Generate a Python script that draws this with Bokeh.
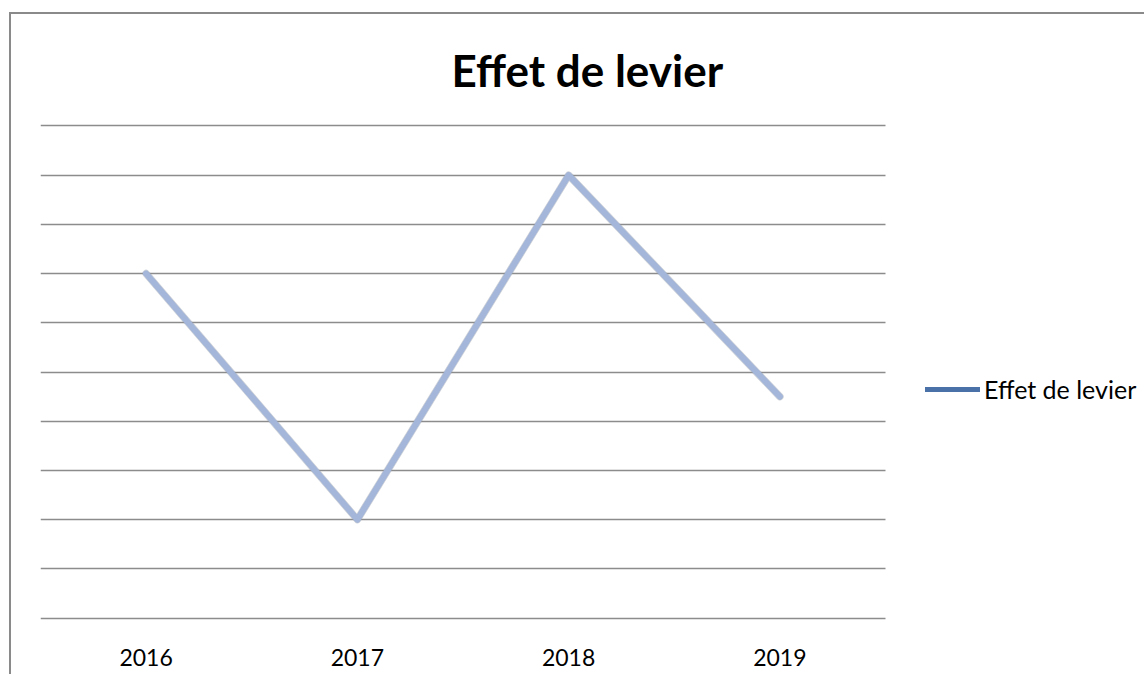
from bokeh.plotting import figure
from bokeh.models import Range1d, Grid, FixedTicker, Legend, LegendItem, ColumnDataSource, Title
from bokeh.embed import file_html
from bokeh.resources import INLINE

years = ["2016", "2017", "2018", "2019"]
effet_levier = [7.0, 2.0, 9.0, 4.5]
grid_ticks = [0, 1, 2, 3, 4, 5, 6, 7, 8, 9, 10]
title_text = "Effet de levier"
series_name = "Effet de levier"

FONT = "Lato"

pos = list(range(len(years)))
n = len(years)

p = figure(
    width=1135, height=662,
    x_range=Range1d(-0.5, -0.5 + n * 1106 / 845),
    y_range=Range1d(-0.05, 10.05),
    output_backend="svg", toolbar_location=None,
    y_axis_location=None,
    min_border_left=29, min_border_right=0,
    min_border_top=109, min_border_bottom=56,
)
p.outline_line_color = None
p.grid.visible = False
p.background_fill_color = "white"
p.border_fill_color = "white"
p.styles = {"border-left": "2px solid #8a8a8a", "border-top": "2px solid #8a8a8a",
            "margin-left": "9px", "margin-top": "12px"}

p.add_layout(Grid(dimension=1, ticker=FixedTicker(ticks=grid_ticks),
                  cross_bounds=(-0.5, n - 0.5),
                  grid_line_color="#8c8c8c", grid_line_width=1.5))

t = Title(text=title_text, align="left", offset=411, standoff=54,
          vertical_align="middle",
          text_font=FONT, text_font_size="44px", text_font_style="bold",
          text_color="black")
p.add_layout(t, "above")

xa = p.xaxis[0]
xa.ticker = FixedTicker(ticks=pos)
xa.major_label_overrides = {i: y for i, y in zip(pos, years)}
xa.axis_line_color = None
xa.major_tick_line_color = None
xa.minor_tick_line_color = None
xa.major_label_standoff = 22
xa.major_label_text_font = FONT
xa.major_label_text_font_size = "23px"
xa.major_label_text_color = "black"

src = ColumnDataSource(dict(x=pos, y=effet_levier))
leg_r = p.line("x", "y", source=src, line_color="#4a72a8", line_width=5, line_cap="round", line_join="round")
p.line("x", "y", source=src, line_color="#9aa4b4", line_width=7.5, line_alpha=0.5, line_join="round", line_cap="round")
p.line("x", "y", source=src, line_color="#a4b6d9", line_width=6, line_join="round", line_cap="round")

legend = Legend(items=[LegendItem(label=series_name, renderers=[leg_r])],
                location=(885, 216), border_line_color=None, background_fill_alpha=0,
                label_text_font=FONT, label_text_font_size="25px", label_text_color="black",
                glyph_width=55, label_standoff=4, padding=0, margin=0)
p.add_layout(legend, "center")

open("out.html", "w").write(file_html(p, INLINE))
